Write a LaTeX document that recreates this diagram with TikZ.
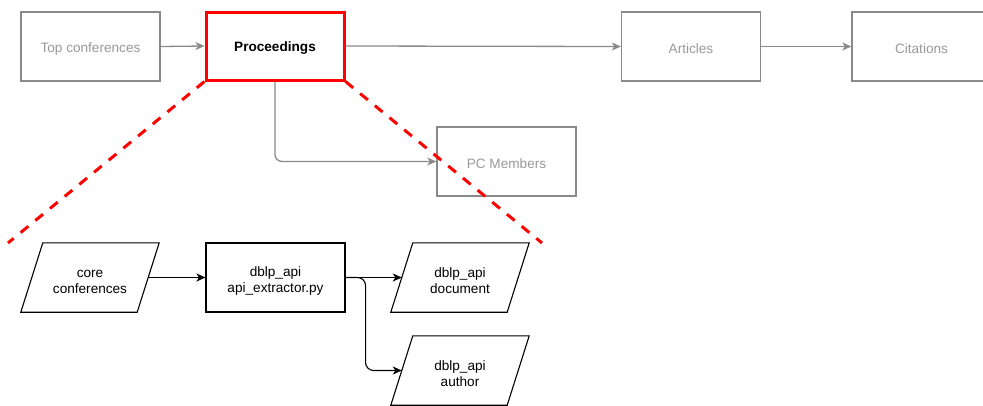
\documentclass[tikz,border=0pt]{standalone}
\usepackage{fontspec}
\setmainfont{Liberation Sans}
\usetikzlibrary{arrows.meta}
\definecolor{boxgray}{HTML}{8A8A8A}
\definecolor{txtgray}{HTML}{999999}
\definecolor{cutred}{HTML}{FF0000}
% extra room above the first line, so the text sits on the optical centre
\newcommand\toplift[1]{\rule{0pt}{#1}}
\tikzset{
  every node/.style={font=\fontsize{13.6}{16}\selectfont, align=center, inner sep=0pt},
  stage/.style={draw=boxgray, line width=1.3pt, text=txtgray, minimum width=139pt, minimum height=69pt},
  focus/.style={draw=cutred, line width=3pt, text=black, font=\fontsize{13.6}{16}\selectfont\bfseries, minimum width=138pt, minimum height=68pt},
  proc/.style={draw=black, line width=1.1pt, minimum width=139pt, minimum height=69pt},
  data/.style={minimum width=138pt, minimum height=69pt},
  garrow/.style={draw=boxgray, line width=1.3pt, -{Stealth[length=9pt,width=8pt,inset=2.5pt]}},
  barrow/.style={draw=black, line width=1.1pt, -{Stealth[length=9pt,width=8pt,inset=2.5pt]}},
  cut/.style={draw=cutred, line width=3pt, dash pattern=on 10pt off 9pt}
}
\begin{document}
\begin{tikzpicture}[x=1pt, y=-1pt]
  \clip (0,0) rectangle (983,405);
  \useasboundingbox (0,0) rectangle (983,405);

  % upper pipeline
  \node[stage] (top) at (90.5,46.5) {\toplift{14pt}Top conferences};
  \node[focus] (procd) at (275,46) {\toplift{14pt}Proceedings};
  \node[stage] (art) at (691,46.5) {\toplift{14pt}Articles};
  \node[stage] (cit) at (921.5,46.5) {\toplift{14pt}Citations};
  \node[stage] (pc) at (506.5,161.5) {\toplift{14pt}PC Members};

  \draw[garrow] (top.east) -- (procd.west);
  \draw[garrow] (procd.east) -- (art.west);
  \draw[garrow] (art.east) -- (cit.west);
  \draw[garrow, rounded corners=7pt] (procd.south) |- (pc.west);

  % detailed extraction flow
  \node[data] (core) at (90,277.5) {\toplift{16pt}core\\conferences};
  \node[proc] (ext) at (275.5,277.5) {\toplift{16pt}dblp\_api\\api\_extractor.py};
  \node[data] (doc) at (460,277.5) {\toplift{16pt}dblp\_api\\document};
  \node[data] (auth) at (460,370.5) {\toplift{16pt}dblp\_api\\author};

  % parallelogram outlines for the data nodes (top edge shifted right)
  \foreach \n in {core,doc,auth}{
    \draw[black, line width=1.1pt, line join=miter]
      (\n.south west) -- ([xshift=-22pt]\n.south east)
      -- (\n.north east) -- ([xshift=22pt]\n.north west) -- cycle;
  }

  \draw[barrow] ([xshift=-11pt]core.east) -- (ext.west);
  \draw[barrow] (ext.east) -- ([xshift=11pt]doc.west);
  \draw[barrow, rounded corners=8pt] (ext.east) -- ++(20,0) |- ([xshift=11pt]auth.west);

  % zoom-out cut lines
  \coordinate (cutL) at (8,243);
  \coordinate (cutR) at (542,243);
  \draw[cut] (procd.south west) -- (cutL);
  \draw[cut] (procd.south east) -- (cutR);
\end{tikzpicture}
\end{document}
